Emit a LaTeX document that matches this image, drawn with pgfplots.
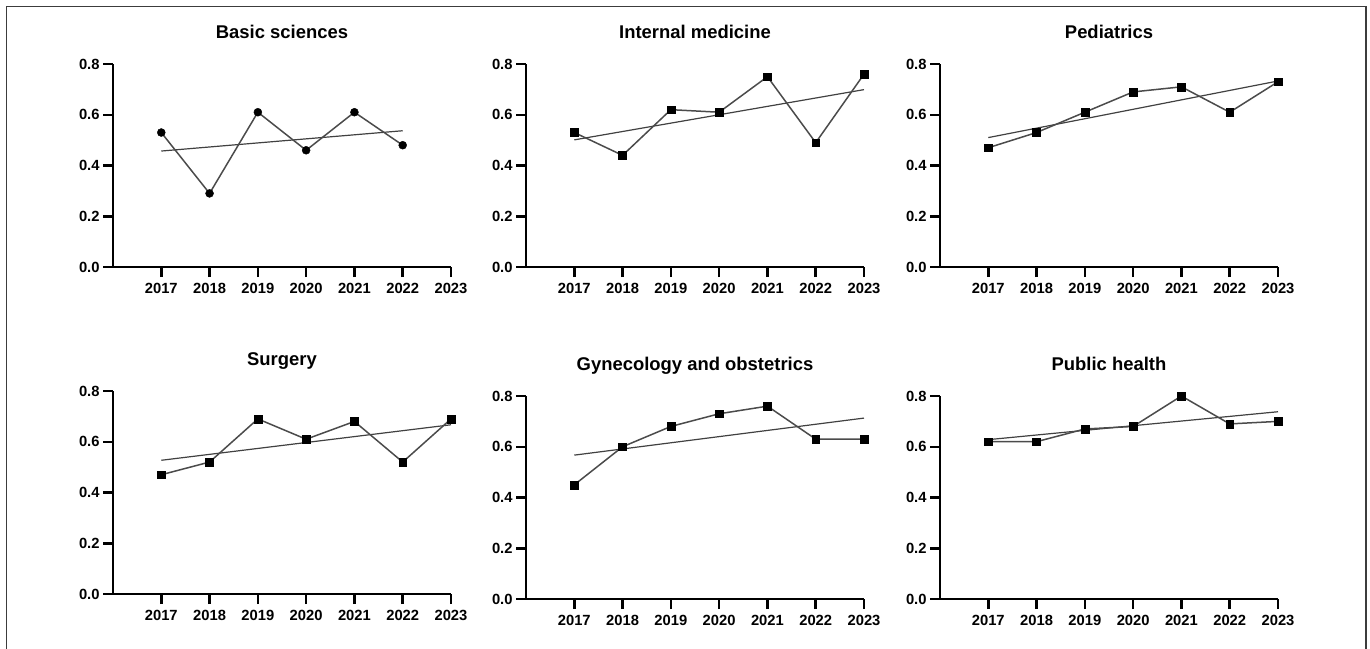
\documentclass[border=0pt]{standalone}
\usepackage{fontspec}
\setmainfont{Liberation Sans}
\usepackage{pgfplots}
\pgfplotsset{compat=1.18}
\definecolor{dline}{RGB}{75,75,75}
\definecolor{tline}{RGB}{65,65,65}
\definecolor{frame}{RGB}{60,60,60}
\pgfplotsset{
  panel/.style={
    scale only axis, width=338bp, height=203bp,
    anchor=south west,
    xmin=2016, xmax=2023, ymin=0, ymax=0.8,
    axis x line=bottom, axis y line=left,
    axis line style={line width=2.7bp, -, black},
    xtick={2017,2018,2019,2020,2021,2022,2023},
    ytick={0,0.2,0.4,0.6,0.8},
    minor tick num=0,
    major tick length=10bp,
    tick style={line width=2.5bp, black},
    tick align=outside,
    ticklabel style={font=\bfseries\fontsize{14.8}{16}\selectfont},
    /pgf/number format/assume math mode=true,
    x tick label style={/pgf/number format/1000 sep={}, yshift=-3bp},
    y tick label style={/pgf/number format/.cd, fixed, fixed zerofill, precision=1},
    title style={font=\bfseries\fontsize{18.5}{20}\selectfont, at={(0.5,1)}, anchor=base, yshift=19.5bp},
    clip=false,
  },
  data/.style={color=dline, line width=1.5bp, mark=square*, mark size=3.9bp,
    mark options={fill=black, draw=black, line width=0.4bp, solid}},
  trend/.style={color=tline, line width=1.2bp, no marks},
}
\begin{document}
\begin{tikzpicture}
\path[use as bounding box] (0,0) rectangle (1370bp,-649bp);
\draw[frame, line width=1.6bp] (6.5bp,-649bp) -- (6.5bp,-6.5bp) -- (1365.8bp,-6.5bp) -- (1365.8bp,-649bp);

% Basic sciences
\begin{axis}[panel, at={(113bp,-267bp)}, title={Basic sciences}]
\addplot[trend] coordinates {(2017,0.457) (2022,0.537)};
\addplot[data, mark=*, mark size=4bp] coordinates {(2017,0.53) (2018,0.29) (2019,0.61) (2020,0.46) (2021,0.61) (2022,0.48)};
\end{axis}

% Internal medicine
\begin{axis}[panel, at={(526bp,-267bp)}, title={Internal medicine}]
\addplot[trend] coordinates {(2017,0.501) (2023,0.699)};
\addplot[data] coordinates {(2017,0.53) (2018,0.44) (2019,0.62) (2020,0.61) (2021,0.75) (2022,0.49) (2023,0.76)};
\end{axis}

% Pediatrics
\begin{axis}[panel, at={(940bp,-267bp)}, title={Pediatrics}]
\addplot[trend] coordinates {(2017,0.510) (2023,0.733)};
\addplot[data] coordinates {(2017,0.47) (2018,0.53) (2019,0.61) (2020,0.69) (2021,0.71) (2022,0.61) (2023,0.73)};
\end{axis}

% Surgery
\begin{axis}[panel, at={(113bp,-594bp)}, title={Surgery}]
\addplot[trend] coordinates {(2017,0.527) (2023,0.667)};
\addplot[data] coordinates {(2017,0.47) (2018,0.52) (2019,0.69) (2020,0.61) (2021,0.68) (2022,0.52) (2023,0.69)};
\end{axis}

% Gynecology and obstetrics
\begin{axis}[panel, at={(526bp,-599bp)}, title={Gynecology and obstetrics}]
\addplot[trend] coordinates {(2017,0.567) (2023,0.713)};
\addplot[data] coordinates {(2017,0.45) (2018,0.60) (2019,0.68) (2020,0.73) (2021,0.76) (2022,0.63) (2023,0.63)};
\end{axis}

% Public health
\begin{axis}[panel, at={(940bp,-599bp)}, title={Public health}]
\addplot[trend] coordinates {(2017,0.628) (2023,0.738)};
\addplot[data] coordinates {(2017,0.62) (2018,0.62) (2019,0.67) (2020,0.68) (2021,0.80) (2022,0.69) (2023,0.70)};
\end{axis}
\end{tikzpicture}
\end{document}
